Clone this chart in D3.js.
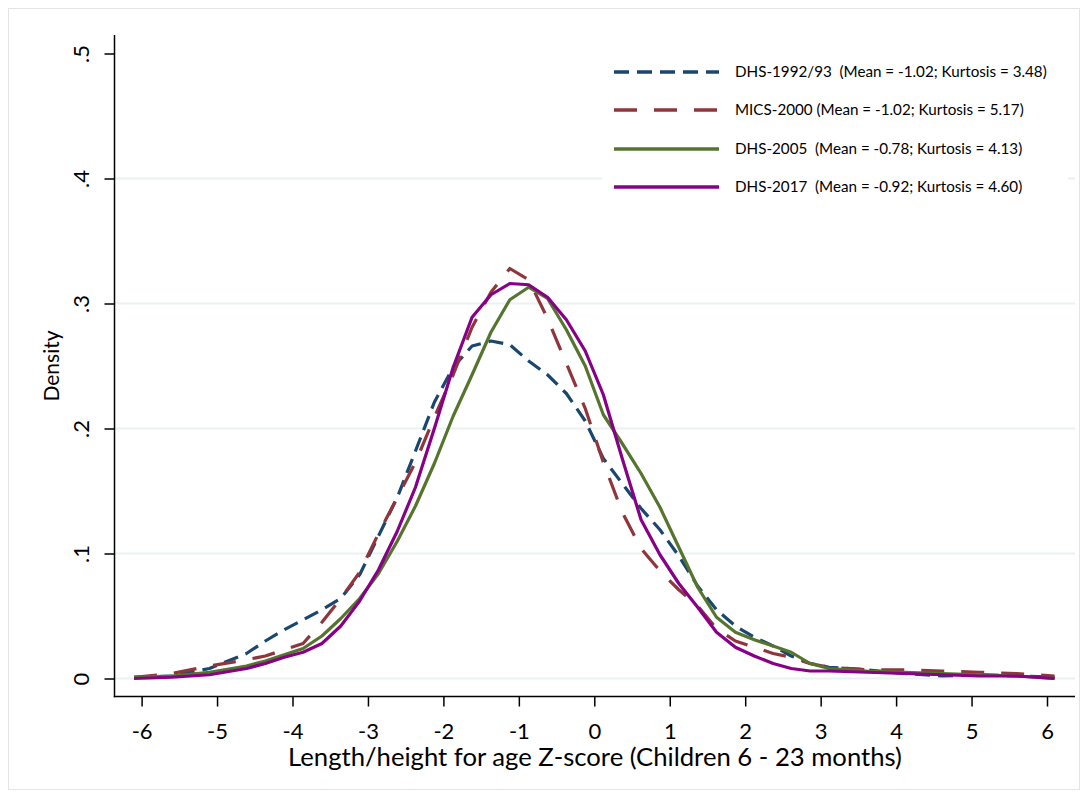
<!DOCTYPE html>
<html><head><meta charset="utf-8">
<script src="https://cdn.jsdelivr.net/npm/d3@7"></script>
<style>body{margin:0;background:#fff} svg{display:block} text{font-family:Lato,"Open Sans",sans-serif;fill:#000;white-space:pre}</style>
</head><body><svg id="c" width="1088" height="796"></svg>
<script>
// ---- data ----
const zScores = [-6.10,-5.60,-5.10,-4.61,-4.36,-4.11,-3.86,-3.61,-3.36,-3.11,-2.86,-2.61,-2.37,-2.12,-1.87,-1.62,-1.37,-1.12,-0.87,-0.62,-0.37,-0.12,0.12,0.37,0.62,0.87,1.12,1.37,1.62,1.87,2.12,2.37,2.61,2.86,3.11,3.61,4.11,4.61,5.10,5.60,6.10];
const dhs1992 = [0.001,0.002,0.008,0.020,0.030,0.039,0.047,0.055,0.064,0.083,0.114,0.145,0.182,0.221,0.249,0.266,0.270,0.267,0.254,0.243,0.228,0.206,0.176,0.156,0.136,0.119,0.098,0.074,0.055,0.042,0.033,0.026,0.018,0.012,0.009,0.007,0.004,0.002,0.003,0.002,0.001];
const mics2000 = [0.001,0.004,0.010,0.015,0.018,0.023,0.028,0.045,0.064,0.085,0.116,0.145,0.173,0.209,0.243,0.281,0.309,0.328,0.319,0.288,0.252,0.216,0.173,0.133,0.104,0.086,0.071,0.058,0.040,0.030,0.025,0.020,0.017,0.012,0.009,0.007,0.007,0.006,0.005,0.004,0.002];
const dhs2005 = [0.001,0.002,0.005,0.010,0.014,0.019,0.024,0.034,0.048,0.064,0.084,0.110,0.138,0.172,0.210,0.243,0.277,0.303,0.313,0.304,0.279,0.250,0.211,0.188,0.164,0.137,0.105,0.073,0.049,0.037,0.031,0.026,0.021,0.012,0.008,0.006,0.005,0.004,0.003,0.002,0.000];
const dhs2017 = [0.000,0.001,0.003,0.008,0.012,0.017,0.021,0.028,0.042,0.062,0.087,0.118,0.153,0.200,0.249,0.289,0.307,0.316,0.315,0.305,0.287,0.262,0.227,0.176,0.127,0.099,0.076,0.057,0.037,0.025,0.018,0.012,0.008,0.006,0.006,0.005,0.004,0.003,0.002,0.002,0.000];
const seriesNames = ["DHS-1992/93  (Mean = -1.02; Kurtosis = 3.48)","MICS-2000 (Mean = -1.02; Kurtosis = 5.17)","DHS-2005  (Mean = -0.78; Kurtosis = 4.13)","DHS-2017  (Mean = -0.92; Kurtosis = 4.60)"];
const xTicks = [-6,-5,-4,-3,-2,-1,0,1,2,3,4,5,6];
const yTicks = [0,0.1,0.2,0.3,0.4,0.5];
const yTickLabels = ["0",".1",".2",".3",".4",".5"];
const xTitle = "Length/height for age Z-score (Children 6 - 23 months)";
const yTitle = "Density";

// ---- styles ----
const colors = ["#1a476f","#90353b","#55752f","#870087"];
const dashes = ["15,8","23,17",null,null];

const svg = d3.select("#c");
svg.append("rect").attr("width",1088).attr("height",796).attr("fill","#fff");
svg.append("rect").attr("x",8.5).attr("y",8.5).attr("width",1071).attr("height",781)
  .attr("fill","none").attr("stroke","#e4e4e4");

const x = d3.scaleLinear().domain([-6,6]).range([141.6,1047]);
const y = d3.scaleLinear().domain([0,0.5]).range([678.5,53.5]);
const axisX0 = 114.5, axisXEnd = 1075, axisY0 = 696.5, axisYTop = 35;

// gridlines (not at the top tick)
svg.append("g").selectAll("line").data(yTicks.slice(0,5)).join("line")
  .attr("x1",axisX0).attr("x2",axisXEnd).attr("y1",d=>y(d)).attr("y2",d=>y(d))
  .attr("stroke","#eaf1f3").attr("stroke-width",2);

// curves
const series = [dhs1992,mics2000,dhs2005,dhs2017];
const line = d3.line().x((d,i)=>x(zScores[i])).y(d=>y(d));
const gCurves = svg.append("g").attr("fill","none");
series.forEach((s,k)=>{
  gCurves.append("path").attr("d",line(s)).attr("stroke",colors[k]).attr("stroke-width",3.2)
    .attr("stroke-dasharray",dashes[k]).attr("stroke-linejoin","round");
});

// y axis
const yAxis = d3.axisLeft(y).tickValues(yTicks).tickSize(10).tickSizeOuter(0)
  .tickFormat((d,i)=>yTickLabels[i]);
const gy = svg.append("g").attr("transform",`translate(${axisX0},0)`).call(yAxis);
gy.select(".domain").remove();
gy.selectAll(".tick line").attr("stroke","#000").attr("stroke-width",1.5);
gy.selectAll(".tick text").attr("x",null).attr("dy",null).attr("font-size",22)
  .attr("font-family",null).attr("text-anchor","middle").attr("fill","#000")
  .attr("transform","translate(-26,0) rotate(-90)");
svg.append("line").attr("x1",axisX0).attr("x2",axisX0).attr("y1",axisYTop).attr("y2",axisY0+0.75)
  .attr("stroke","#000").attr("stroke-width",1.5);

// x axis
const xAxis = d3.axisBottom(x).tickValues(xTicks).tickSize(10).tickSizeOuter(0).tickFormat(d3.format("d"));
const gx = svg.append("g").attr("transform",`translate(0,${axisY0})`).call(xAxis);
gx.select(".domain").remove();
gx.selectAll(".tick line").attr("stroke","#000").attr("stroke-width",1.5);
gx.selectAll(".tick text").attr("y",42).attr("dy",null).attr("font-size",22)
  .attr("font-family",null).attr("fill","#000").text(d=>String(d).replace("−","-"));
svg.append("line").attr("x1",axisX0-0.75).attr("x2",axisXEnd).attr("y1",axisY0).attr("y2",axisY0)
  .attr("stroke","#000").attr("stroke-width",1.5);

// titles
const xt = svg.append("text").attr("x",595).attr("y",766).attr("text-anchor","middle")
  .attr("font-size",22).text(xTitle);
const w = xt.node().getComputedTextLength();
xt.attr("font-size",22*614/w);
svg.append("text").attr("text-anchor","middle").attr("font-size",21)
  .attr("transform","translate(59,366) rotate(-90)").text(yTitle);

// legend
const legY = [72,110,149,187];
svg.append("rect").attr("x",602).attr("y",48).attr("width",466).attr("height",160).attr("fill","#fff");
const gl = svg.append("g");
seriesNames.forEach((n,k)=>{
  gl.append("line").attr("x1",614).attr("x2",719).attr("y1",legY[k]).attr("y2",legY[k])
    .attr("stroke",colors[k]).attr("stroke-width",3.4).attr("stroke-dasharray",dashes[k]);
});
const lt = gl.selectAll("text.l").data(seriesNames).join("text").attr("class","l")
  .attr("x",735).attr("y",(d,i)=>legY[i]).attr("dy","0.36em").attr("font-size",14).text(d=>d);
const lw = lt.nodes()[0].getComputedTextLength();
lt.attr("font-size",14*312/lw);
</script></body></html>
